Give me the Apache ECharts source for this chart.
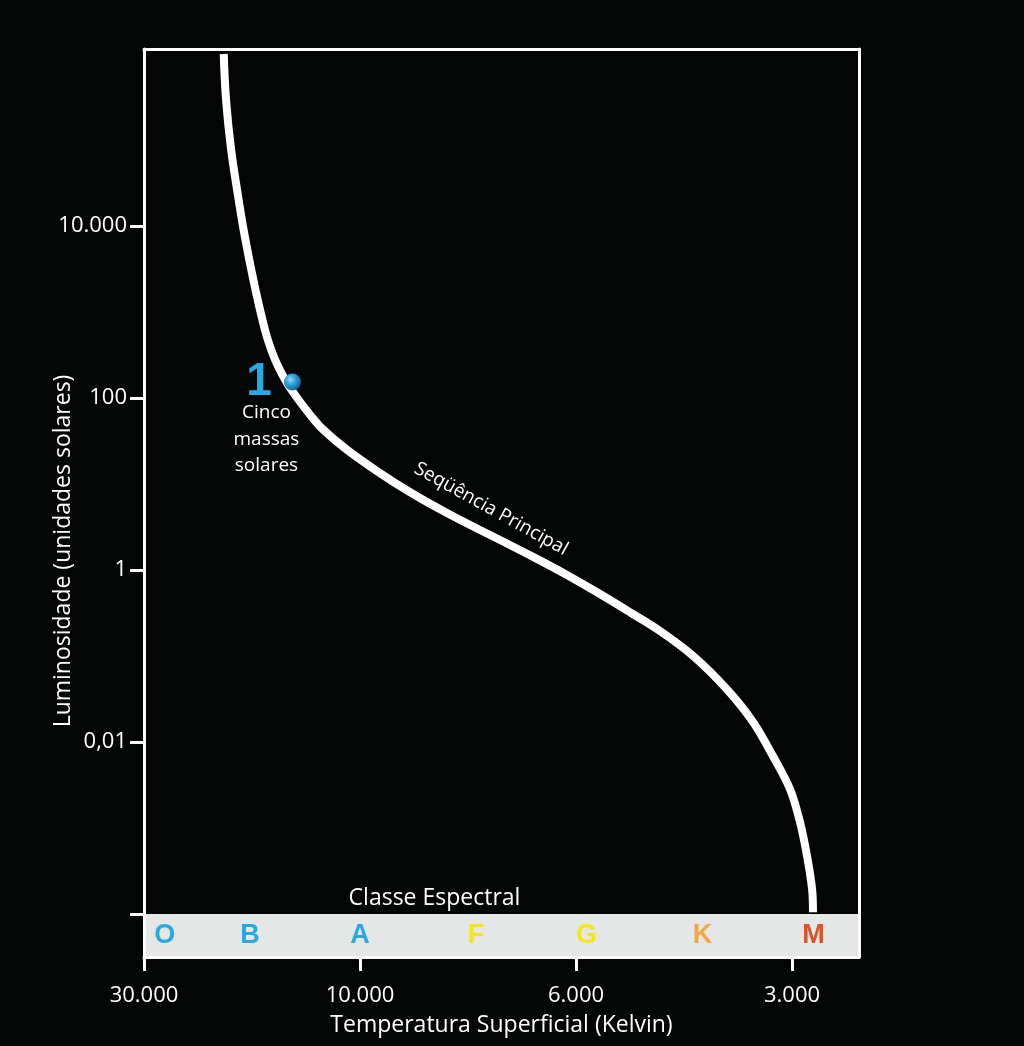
<!DOCTYPE html>
<html>
<head>
<meta charset="utf-8">
<script src="https://cdn.jsdelivr.net/npm/echarts@6/dist/echarts.min.js"></script>
<style>
html,body{margin:0;padding:0;background:#040606;}
#c{width:1024px;height:1046px;}
</style>
</head>
<body>
<div id="c"></div>
<script>
// ---- data ----
const xTickTemps = [30000, 10000, 6000, 3000];
const xTickLabels = ['30.000', '10.000', '6.000', '3.000'];
const yTickExps = [4, 2, 0, -2, -4];
const yTickLabels = ['10.000', '100', '1', '0,01', ''];

// main sequence: surface temperature (K) and luminosity (solar units)
const seqTemps = [20000, 19770, 19270, 18550, 18040, 17450, 16840, 16170, 15730, 15180, 14530, 13710, 12830, 12100, 10740, 9540, 8820, 8140, 7530, 7180, 6640, 6130, 5555, 5000, 4582, 4120, 3700, 3400, 3190, 3020, 2924, 2859, 2813, 2805];
const seqLums  = [1000000, 300000, 78600, 20600, 8510, 3430, 1416, 585, 371, 235, 153, 97.3, 61.8, 43.6, 25.5, 13.4, 7.65, 4.60, 2.92, 2.23, 1.42, 0.875, 0.526, 0.308, 0.195, 0.1, 0.0413, 0.0171, 0.00687, 0.00284, 0.00117, 0.000472, 0.000195, 0.000105];

const starTemp = 14100, starLum = 153;
const starNumber = '1';
const starText = 'Cinco\nmassas\nsolares';
const seqLabel = 'Seqüência Principal';
const seqLabelTemp = 7335, seqLabelLum = 5.12;

const classNames = ['O', 'B', 'A', 'F', 'G', 'K', 'M'];
const classTemps = [27000, 17500, 10000, 7600, 5800, 4000, 2800];
const classColors = ['#29a9e0', '#29a9e0', '#29a9e0', '#f3e61a', '#f3e61a', '#f4a546', '#d8552b'];

// ---- scales ----
function tPos(T) {
  let i = 0;
  while (i < xTickTemps.length - 2 && T < xTickTemps[i + 1]) i++;
  const a = xTickTemps[i], b = xTickTemps[i + 1];
  return i + Math.log(a / T) / Math.log(a / b);
}
const lg = v => Math.log10(v);

const X_MAX = 3.31, Y_MIN = -4.5, Y_MAX = 6.058;
const FONT = 'Open Sans';

const seqData = seqTemps.map((t, i) => [tPos(t), lg(seqLums[i])]);
const classData = classNames.map((n, i) => ({
  value: [tPos(classTemps[i]), -4.25], name: n,
  label: { color: classColors[i] }
}));

const chart = echarts.init(document.getElementById('c'));
const frameLine = { show: true, onZero: false, lineStyle: { color: '#ffffff', width: 3 } };

chart.setOption({
  backgroundColor: '#040606',
  animation: false,
  grid: { left: 144, top: 49, width: 715, height: 908, containLabel: false },
  xAxis: [{
    type: 'value', min: 0, max: X_MAX, position: 'bottom', z: 10,
    axisLine: frameLine,
    splitLine: { show: false },
    axisTick: { show: true, customValues: [0, 1, 2, 3], length: 14, lineStyle: { color: '#fff', width: 3 } },
    axisLabel: { customValues: [0, 1, 2, 3], margin: 28, color: '#fff', fontFamily: FONT, fontSize: 22,
      formatter: v => xTickLabels[Math.round(v)] },
    name: 'Temperatura Superficial (Kelvin)', nameLocation: 'middle', nameGap: 57,
    nameTextStyle: { color: '#fff', fontFamily: FONT, fontSize: 23 }
  }, {
    type: 'value', min: 0, max: X_MAX, position: 'top', z: 10,
    axisLine: frameLine, axisTick: { show: false }, axisLabel: { show: false }, splitLine: { show: false }
  }],
  yAxis: [{
    type: 'value', min: Y_MIN, max: Y_MAX, position: 'left', z: 10,
    axisLine: frameLine,
    splitLine: { show: false },
    axisTick: { show: true, customValues: yTickExps, length: 14, lineStyle: { color: '#fff', width: 3 } },
    axisLabel: { customValues: yTickExps, margin: 17, color: '#fff', fontFamily: FONT, fontSize: 22,
      formatter: v => yTickLabels[yTickExps.indexOf(Math.round(v))] }
  }, {
    type: 'value', min: Y_MIN, max: Y_MAX, position: 'right', z: 10,
    axisLine: frameLine, axisTick: { show: false }, axisLabel: { show: false }, splitLine: { show: false }
  }],
  graphic: [{
    type: 'text', x: 63, y: 551, rotation: Math.PI / 2,
    style: { text: 'Luminosidade (unidades solares)', fill: '#fff', font: '23px "Open Sans"', align: 'center', verticalAlign: 'middle' }
  }],
  series: [{
    type: 'line', data: seqData, smooth: 0.35, showSymbol: false, symbol: 'none', clip: true, z: 3,
    lineStyle: { color: '#ffffff', width: 8, cap: 'butt', join: 'round' },
    markArea: {
      silent: true,
      itemStyle: { color: '#e5e6e6' },
      label: { show: true, position: 'top', offset: [-67, 1], color: '#fff', fontFamily: FONT, fontSize: 23, formatter: 'Classe Espectral' },
      data: [[{ coord: [0, Y_MIN] }, { coord: [X_MAX, -4] }]]
    }
  }, {
    type: 'scatter', data: classData, symbolSize: 0, z: 4,
    itemStyle: { opacity: 1 },
    label: { show: true, position: 'inside', formatter: '{b}', fontFamily: 'Liberation Sans', fontWeight: 'bold', fontSize: 27, opacity: 1 }
  }, {
    type: 'scatter', data: [[tPos(starTemp), lg(starLum)]], symbolSize: 17, z: 6,
    itemStyle: { opacity: 1, color: { type: 'radial', x: 0.38, y: 0.35, r: 0.7, colorStops: [
      { offset: 0, color: '#8fd6f7' }, { offset: 0.45, color: '#2b9fd6' }, { offset: 1, color: '#0d5d92' }] } },
    label: { show: true, position: 'left', distance: 12, formatter: starNumber, color: '#29a9e0', opacity: 1,
      fontFamily: 'Liberation Sans', fontWeight: 'bold', fontSize: 46 }
  }, {
    type: 'scatter', data: [[tPos(starTemp), lg(starLum)]], symbolSize: 17, z: 5,
    itemStyle: { color: 'transparent', opacity: 1 },
    label: { show: true, position: 'bottom', distance: 9, offset: [-26, 0], align: 'center', formatter: starText,
      color: '#fff', opacity: 1, fontFamily: FONT, fontSize: 19, lineHeight: 26.5 }
  }, {
    type: 'scatter', data: [[tPos(seqLabelTemp), lg(seqLabelLum)]], symbolSize: 0, z: 5,
    itemStyle: { opacity: 1 },
    label: { show: true, position: 'inside', rotate: -29, formatter: seqLabel, opacity: 1,
      color: '#fff', fontFamily: FONT, fontSize: 19 }
  }]
});
</script>
</body>
</html>
